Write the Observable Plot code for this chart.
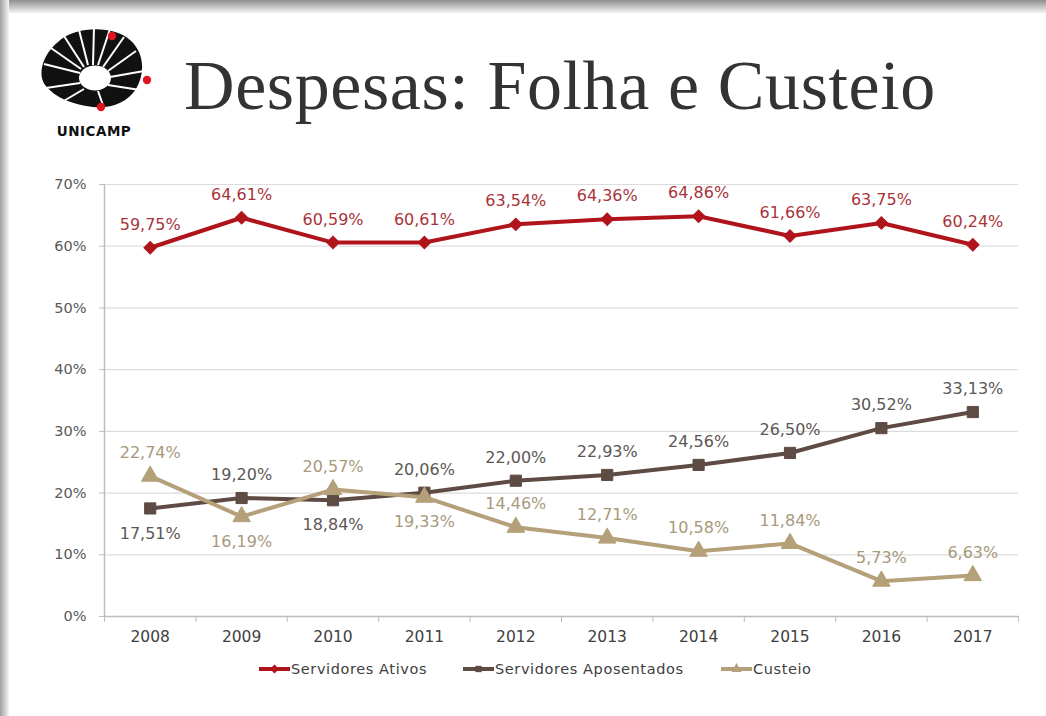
<!DOCTYPE html>
<html><head><meta charset="utf-8">
<script src="https://cdn.jsdelivr.net/npm/d3@7"></script>
<script src="https://cdn.jsdelivr.net/npm/@observablehq/plot@0.6"></script>
<style>
html,body{margin:0;padding:0;background:#fff;}
#page{position:relative;width:1046px;height:716px;overflow:hidden;background:#fff;font-family:"DejaVu Sans",sans-serif;}
#topbar{position:absolute;left:0;top:0;width:1046px;height:13px;background:linear-gradient(#8e8e8e,#d6d6d6 70%,#f2f2f2);}
#leftbar{position:absolute;left:0;top:0;width:9px;height:716px;background:linear-gradient(90deg,#a0a0a0,#dcdcdc 70%,#f6f6f6);}
#title{position:absolute;left:184px;top:46px;font-family:"Liberation Serif",serif;font-size:70px;line-height:80px;color:#333;letter-spacing:0.6px;white-space:nowrap;}
#logo{position:absolute;left:36px;top:26px;}
#chart{position:absolute;left:0;top:165px;}
#legend{position:absolute;left:0;top:658px;width:1046px;height:22px;}
.li{position:absolute;top:0;display:flex;align-items:center;font-size:14.5px;letter-spacing:0.6px;color:#404040;white-space:nowrap;height:22px;}
</style></head>
<body>
<div id="page">
  <div id="topbar"></div>
  <div id="leftbar"></div>
  <svg id="logo" width="130" height="115" viewBox="36 26 130 115">
    <g>
      <path d="M58,42 C74,26 114,25 130,40 C145,53 145,74 136,89 C127,103 110,109 93,107 C74,105 55,98 45,85 C37,74 43,54 58,42 Z" fill="#111"/>
      <ellipse cx="95" cy="78" rx="16" ry="12.5" fill="#fff"/>
      <g stroke="#fff" stroke-width="2">
        <line x1="80" y1="73" x2="44" y2="64"/>
        <line x1="81" y1="69" x2="51" y2="48"/>
        <line x1="84" y1="67" x2="64" y2="36"/>
        <line x1="88" y1="65" x2="79" y2="30"/>
        <line x1="93" y1="65" x2="94" y2="27"/>
        <line x1="98" y1="65" x2="110" y2="29"/>
        <line x1="103" y1="67" x2="124" y2="37"/>
        <line x1="108" y1="71" x2="136" y2="51"/>
        <line x1="110" y1="77" x2="144" y2="71"/>
        <line x1="108" y1="85" x2="140" y2="90"/>
        <line x1="80" y1="83" x2="46" y2="88"/>
        <line x1="84" y1="89" x2="62" y2="102"/>
        <line x1="98" y1="91" x2="104" y2="108"/>
      </g>
      <circle cx="112" cy="36" r="4.2" fill="#e0141c"/>
      <circle cx="147" cy="80" r="4.2" fill="#e0141c"/>
      <circle cx="101" cy="107" r="4.2" fill="#e0141c"/>
      <text x="94" y="136" text-anchor="middle" font-family="'DejaVu Sans',sans-serif" font-weight="bold" font-size="13.5" fill="#111" letter-spacing="0.5">UNICAMP</text>
    </g>
  </svg>
  <div id="title">Despesas: Folha e Custeio</div>
  <div id="chart"></div>
  <div id="legend"></div>
</div>
<script>
// ---- data ----
const years = [2008, 2009, 2010, 2011, 2012, 2013, 2014, 2015, 2016, 2017];
const ativos = [59.75, 64.61, 60.59, 60.61, 63.54, 64.36, 64.86, 61.66, 63.75, 60.24];
const aposentados = [17.51, 19.20, 18.84, 20.06, 22.00, 22.93, 24.56, 26.50, 30.52, 33.13];
const custeio = [22.74, 16.19, 20.57, 19.33, 14.46, 12.71, 10.58, 11.84, 5.73, 6.63];
const seriesNames = ["Servidores Ativos", "Servidores Aposentados", "Custeio"];
const yTicks = [0, 10, 20, 30, 40, 50, 60, 70];
// years whose label sits below the point
const labelsBelow = {"Servidores Ativos": [], "Servidores Aposentados": [2008, 2010], "Custeio": [2009, 2011]};

// ---- styles ----
const lineColors = ["#b0141b", "#5e4b43", "#b4a079"];
const labelColors = ["#a8343a", "#5c5755", "#a8997b"];
const symbols = ["square", "square", "triangle"];
const symRotate = [45, 0, 0];
const symR = [5, 6.3, 6.5];

const allSeries = [ativos, aposentados, custeio];
const rows = [];
allSeries.forEach((vals, s) => vals.forEach((v, i) => rows.push({
  series: seriesNames[s], si: s, year: years[i], value: v,
  below: labelsBelow[seriesNames[s]].includes(years[i])
})));
const boundaries = [...years.map(y => y - 0.5), years[years.length - 1] + 0.5];
const fmt = v => v.toFixed(2).replace(".", ",") + "%";

const marks = [
  Plot.gridY(yTicks.filter(d => d > 0), {stroke: "#dcdcdc", strokeOpacity: 1, strokeWidth: 1.2}),
  Plot.ruleY([0], {stroke: "#bdbdbd", strokeWidth: 1.5}),
  Plot.ruleX([boundaries[0]], {y1: 0, y2: yTicks[yTicks.length - 1], stroke: "#bdbdbd", strokeWidth: 1.5}),
  Plot.axisY({ticks: yTicks, tickFormat: d => d + "%", tickSize: 5, tickPadding: 13, stroke: "#bdbdbd", fill: "#595959", fontSize: 14.5, label: null}),
  Plot.axisX({ticks: boundaries, tickFormat: () => "", tickSize: 6, stroke: "#bdbdbd", label: null}),
  Plot.axisX({ticks: years, tickFormat: d => String(d), tickSize: 0, tickPadding: 14, fill: "#404040", fontSize: 15.5, label: null})
];
seriesNames.forEach((name, s) => {
  const d = rows.filter(r => r.si === s);
  marks.push(Plot.line(d, {x: "year", y: "value", stroke: lineColors[s], strokeWidth: 4, strokeLinejoin: "round"}));
  marks.push(Plot.dot(d, {x: "year", y: "value", symbol: () => symbols[s], rotate: symRotate[s], r: symR[s], fill: lineColors[s], stroke: lineColors[s], strokeWidth: 1}));
  marks.push(Plot.text(d.filter(r => !r.below), {x: "year", y: "value", text: r => fmt(r.value), dy: -23, fill: labelColors[s], fontSize: 16}));
  marks.push(Plot.text(d.filter(r => r.below), {x: "year", y: "value", text: r => fmt(r.value), dy: 25, fill: labelColors[s], fontSize: 16}));
});

const chart = Plot.plot({
  width: 1046,
  height: 490,
  marginLeft: 104,
  marginRight: 28,
  marginTop: 19,
  marginBottom: 39,
  style: {fontFamily: "'DejaVu Sans', sans-serif", background: "transparent", overflow: "visible"},
  x: {type: "linear", domain: [boundaries[0], boundaries[boundaries.length - 1]], axis: null},
  y: {domain: [yTicks[0], yTicks[yTicks.length - 1]], axis: null},
  marks
});
document.getElementById("chart").appendChild(chart);

// ---- legend ----
const legend = document.getElementById("legend");
const legendX = [258, 462, 720];
seriesNames.forEach((name, s) => {
  const item = document.createElement("div");
  item.className = "li";
  item.style.left = legendX[s] + "px";
  const sw = d3.create("svg").attr("width", 33).attr("height", 22);
  sw.append("line").attr("x1", 1).attr("x2", 32).attr("y1", 11).attr("y2", 11).attr("stroke", lineColors[s]).attr("stroke-width", 4);
  sw.append("path").attr("transform", "translate(16.5,11)" + (s === 0 ? " rotate(45)" : "")).attr("d", d3.symbol([d3.symbolSquare, d3.symbolSquare, d3.symbolTriangle][s], [40, 40, 45][s])()).attr("fill", lineColors[s]);
  item.appendChild(sw.node());
  const t = document.createElement("span");
  t.textContent = name;
  item.appendChild(t);
  legend.appendChild(item);
});
</script>
</body></html>
